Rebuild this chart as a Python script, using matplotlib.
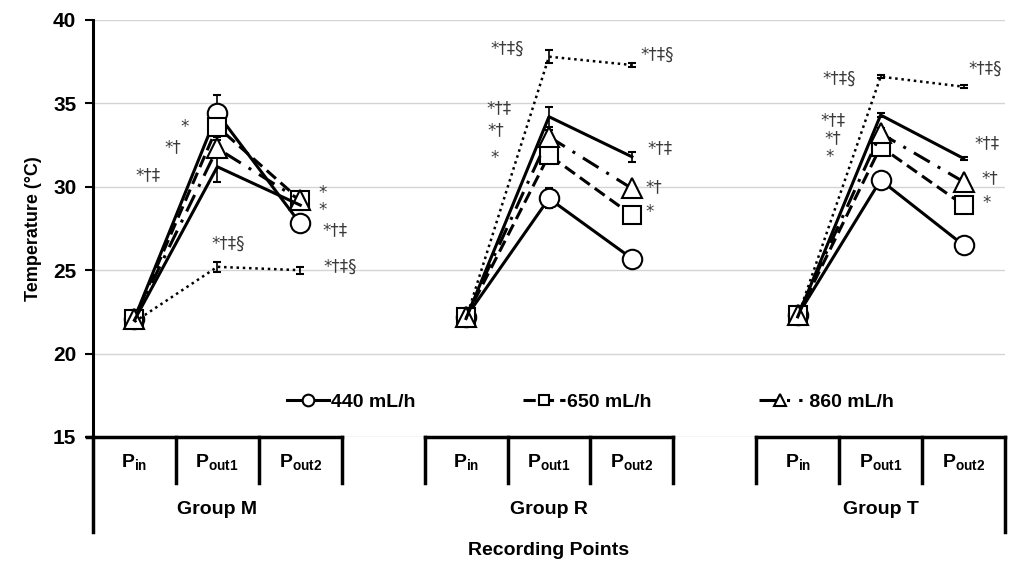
import matplotlib
matplotlib.use('Agg')
import matplotlib.pyplot as plt

plt.rcParams['font.family'] = ['Liberation Sans', 'DejaVu Sans']
plt.rcParams['mathtext.fontset'] = 'custom'
plt.rcParams['mathtext.rm'] = 'Liberation Sans'
plt.rcParams['mathtext.bf'] = 'Liberation Sans:bold'

groups = ['Group M', 'Group R', 'Group T']
point_labels = [r'$\mathbf{P}_{\mathbf{in}}$', r'$\mathbf{P}_{\mathbf{out1}}$',
                r'$\mathbf{P}_{\mathbf{out2}}$']

# temperatures (°C): M Pin, Pout1, Pout2, R Pin, Pout1, Pout2, T Pin, Pout1, Pout2
temp_440 = [22.1, 34.4, 27.8, 22.2, 29.3, 25.7, 22.3, 30.4, 26.5]
temp_650 = [22.1, 33.6, 29.2, 22.2, 31.9, 28.3, 22.3, 32.4, 28.9]
temp_860 = [22.1, 32.3, 29.2, 22.2, 33.0, 29.9, 22.3, 33.2, 30.3]
temp_solid = [22.0, 31.2, 28.9, 22.1, 34.2, 31.8, 22.2, 34.3, 31.7]
temp_dotted = [21.9, 25.2, 25.0, 22.1, 37.8, 37.3, 22.2, 36.6, 36.0]

err_440 = [0.2, 1.1, 0.3, 0.3, 0.6, 0.2, 0.2, 0.3, 0.2]
err_650 = [0.2, 0.6, 0.5, 0.2, 0.4, 0.2, 0.2, 0.3, 0.2]
err_860 = [0.2, 0.5, 0.4, 0.2, 0.4, 0.2, 0.2, 0.3, 0.2]
err_solid = [0.2, 0.9, 0.3, 0.3, 0.6, 0.3, 0.3, 0.1, 0.1]
err_dotted = [0.1, 0.3, 0.2, 0.2, 0.4, 0.1, 0.1, 0.1, 0.1]

# significance marks (text, category position, temperature)
marks = [
    ('*', 0.61, 33.6), ('*†', 0.46, 32.4), ('*†‡', 0.16, 30.7),
    ('*†‡§', 1.13, 26.6), ('*', 2.27, 29.6), ('*', 2.27, 28.6),
    ('*†‡', 2.42, 27.4), ('*†‡§', 2.48, 25.2),
    ('*†‡§', 4.5, 38.3), ('*†‡', 4.4, 34.7), ('*†', 4.36, 33.4), ('*', 4.34, 31.7),
    ('*†‡§', 6.31, 37.9), ('*†‡', 6.34, 32.3), ('*†', 6.27, 30.0), ('*', 6.22, 28.5),
    ('*†‡§', 8.5, 36.5), ('*†‡', 8.42, 34.0), ('*†', 8.42, 32.9), ('*', 8.38, 31.8),
    ('*†‡§', 10.26, 37.1), ('*†‡', 10.28, 32.6), ('*†', 10.32, 30.5), ('*', 10.28, 29.0),
]

series = [
    (temp_440, err_440, dict(ls='-', marker='o', ms=14), '440 mL/h'),
    (temp_650, err_650, dict(ls=(0, (4, 2)), marker='s', ms=13), '650 mL/h'),
    (temp_860, err_860, dict(ls=(0, (6, 3, 1, 3)), marker='^', ms=14), ' 860 mL/h'),
    (temp_solid, err_solid, dict(ls='-', marker=None), None),
    (temp_dotted, err_dotted, dict(ls=(0, (1, 1.5)), marker=None, lw=1.8), None),
]

fig = plt.figure(figsize=(10.17, 5.69), dpi=100)
ax = fig.add_axes([0.0914, 0.232, 0.8968, 0.7329])

handles = []
for vals, errs, style, label in series:
    kw = dict(color='black', lw=2.2, mfc='white', mec='black', mew=1.5,
              ecolor='black', elinewidth=1.2, capsize=3, capthick=1.2, zorder=3)
    kw.update(style)
    for g in range(3):
        xs = [g * 4 + p for p in range(3)]
        ys = vals[g * 3:g * 3 + 3]
        es = errs[g * 3:g * 3 + 3]
        h = ax.errorbar(xs, ys, yerr=es, **kw)
    if label:
        handles.append((h.lines[0], label))

ax.set_xlim(-0.5, 10.5)
ax.set_ylim(15, 40)
ax.set_yticks([15, 20, 25, 30, 35, 40])
ax.grid(axis='y', color='#d4d4d4', lw=1)
ax.set_axisbelow(True)
ax.tick_params(axis='y', direction='out', length=6, width=1.5, labelsize=15, pad=6)
for t in ax.get_yticklabels():
    t.set_fontweight('bold')
ax.set_xticks([])
for side in ['top', 'right', 'bottom']:
    ax.spines[side].set_visible(False)
ax.spines['left'].set_linewidth(2.2)

for text, x, y in marks:
    ax.text(x, y, text, fontsize=12, color='#3a3a3a', ha='center', va='center',
            family=['DejaVu Sans'])

# category table below the axis
tr = ax.get_xaxis_transform()
lk = dict(color='black', lw=2.5, transform=tr, clip_on=False, solid_capstyle='projecting')
for g in range(3):
    left = g * 4 - 0.5
    x0 = left - 0.07 if g == 0 else left
    ax.plot([x0, left + 3], [0, 0], **lk)
    for p in range(4):
        xb = left + p
        bottom = -0.228 if (g == 0 and p == 0) or (g == 2 and p == 3) else -0.11
        ax.plot([xb, xb], [0, bottom], **lk)
    for p in range(3):
        ax.text(g * 4 + p, -0.062, point_labels[p], transform=tr, ha='center',
                va='center', fontsize=14)
    ax.text(g * 4 + 1, -0.175, groups[g], transform=tr, ha='center', va='center',
            fontsize=14, fontweight='bold')
ax.text(5, -0.272, 'Recording Points', transform=tr, ha='center', va='center',
        fontsize=14, fontweight='bold')
ax.set_ylabel('Temperature (°C)', fontsize=13, fontweight='bold', labelpad=8)

leg = ax.legend([h for h, _ in handles], [l for _, l in handles], ncol=3,
                loc='center', bbox_to_anchor=(0.545, 0.084), frameon=False,
                handlelength=2.2, handletextpad=0.1, columnspacing=5.5,
                prop=dict(size=14, weight='bold'), markerscale=0.6)

fig.savefig('out.png', dpi=100)
